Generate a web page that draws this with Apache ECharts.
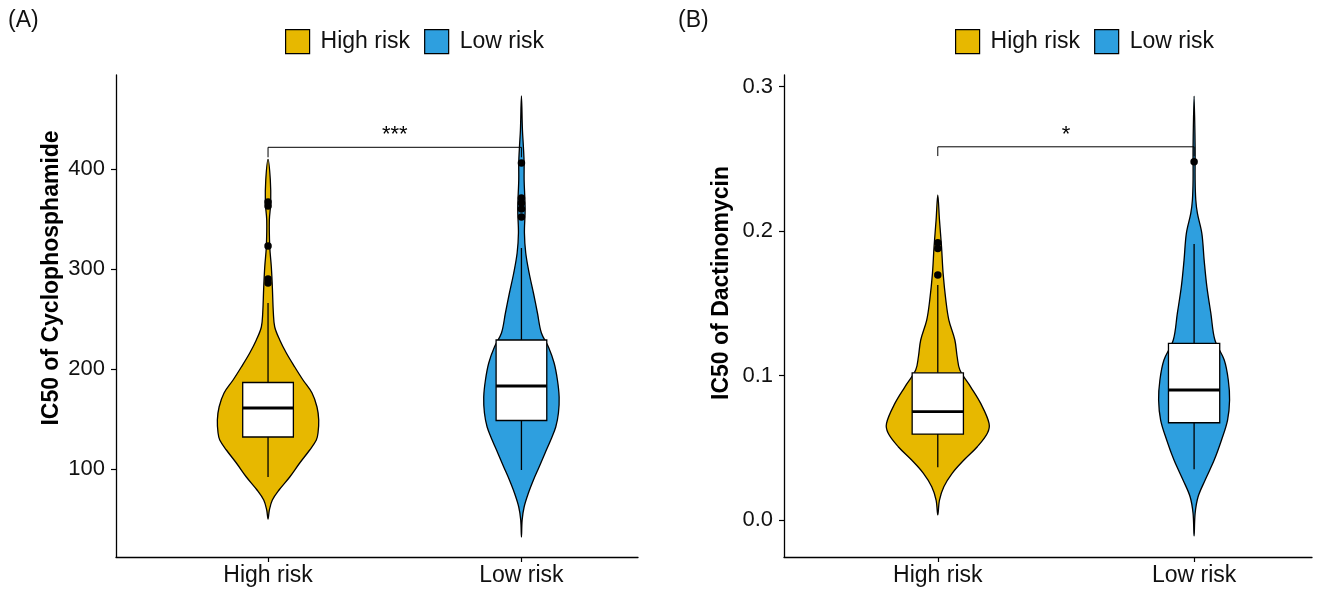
<!DOCTYPE html>
<html>
<head>
<meta charset="utf-8">
<title>IC50 violin plots</title>
<script src="https://cdn.jsdelivr.net/npm/echarts@6/dist/echarts.min.js"></script>
<style>
  html, body { margin: 0; padding: 0; background: #fff; }
  #chart { width: 1320px; height: 592px; }
</style>
</head>
<body>
<div id="chart"></div>
<script>
// groups on the x axis
const groups = ['High risk', 'Low risk'];
const groupColors = ['#E7B800', '#2E9FDF'];

// violin outlines: [IC50 value, relative density]
const cycloHighViolin = [
  [409.7, 0], [389, 0.045], [366, 0.053], [349, 0.026], [322, 0.034], [302, 0.065],
  [282, 0.085], [256, 0.105], [242, 0.132], [229, 0.231], [216, 0.361], [202, 0.527],
  [189, 0.69], [176, 0.868], [162, 0.966], [149, 1.0], [136, 0.986], [129, 0.953],
  [119, 0.822], [106, 0.625], [92, 0.428], [79, 0.217], [69, 0.085], [59, 0.026], [50, 0]
];
const cycloLowViolin = [
  [473, 0], [439, 0.02], [422, 0.039], [406, 0.053], [389, 0.053], [360, 0.073],
  [336, 0.059], [316, 0.085], [296, 0.152], [276, 0.237], [256, 0.316], [236, 0.394],
  [222, 0.533], [206, 0.645], [189, 0.71], [172, 0.744], [156, 0.73], [142, 0.677],
  [129, 0.578], [116, 0.467], [102, 0.349], [89, 0.237], [76, 0.138], [62, 0.053],
  [49, 0.014], [32, 0]
];
const dactHighViolin = [
  [0.225, 0], [0.2076, 0.033], [0.1891, 0.073], [0.1707, 0.104], [0.1522, 0.157],
  [0.1384, 0.216], [0.1246, 0.333], [0.113, 0.378], [0.1038, 0.431], [0.0922, 0.641],
  [0.0807, 0.837], [0.0669, 1.0], [0.06, 0.967], [0.0507, 0.771], [0.0415, 0.51],
  [0.0323, 0.28], [0.023, 0.118], [0.0138, 0.033], [0.0035, 0]
];
const dactLowViolin = [
  [0.2934, 0], [0.2583, 0.02], [0.2353, 0.02], [0.2215, 0.033], [0.2122, 0.065],
  [0.1984, 0.151], [0.1799, 0.196], [0.1615, 0.249], [0.143, 0.327], [0.1246, 0.406],
  [0.1107, 0.588], [0.0969, 0.667], [0.083, 0.692], [0.0692, 0.653], [0.0554, 0.535],
  [0.0415, 0.392], [0.0277, 0.216], [0.0161, 0.078], [0.0046, 0.02], [-0.011, 0]
];

// box stats: [whisker low, Q1, median, Q3, whisker high]
const cycloBox = [[92, 132, 161, 186.5, 266], [99, 148.5, 183, 229, 321]];
const dactBox = [[0.0365, 0.0595, 0.075, 0.1019, 0.1626], [0.0351, 0.0673, 0.09, 0.1223, 0.191]];

// outliers
const cycloHighOut = [367, 363, 323, 290, 286];
const cycloLowOut = [406, 371, 366, 360, 352];
const dactHighOut = [0.1919, 0.188, 0.1696];
const dactLowOut = [0.248];

// significance brackets: [bar, leg end, label]
const cycloSig = [421.7, 411.7, 434.5];
const dactSig = [0.2583, 0.2519, 0.2668];
const sigLabels = ['***', '*'];

const yTicksA = [100, 200, 300, 400];
const yTicksB = [0, 0.1, 0.2, 0.3];

const FONT = "'Liberation Sans', Arial, sans-serif";
const VIOLIN_HALF = 0.2;  // category units at density 1
const BOX_HALF = 0.1;

function violinItem(profile, xPos) {
  return function (params, api) {
    const right = profile.map(p => api.coord([xPos + p[1] * VIOLIN_HALF, p[0]]));
    const left = profile.slice(1, -1).reverse().map(p => api.coord([xPos - p[1] * VIOLIN_HALF, p[0]]));
    return {
      type: 'polygon',
      shape: { points: right.concat(left), smooth: 0.35 },
      style: { fill: api.visual('color'), stroke: '#000', lineWidth: 1.3 }
    };
  };
}

function boxItem(params, api) {
  const x = api.value(0);
  const lo = api.coord([x, api.value(1)]);
  const q1 = api.coord([x, api.value(2)]);
  const med = api.coord([x, api.value(3)]);
  const q3 = api.coord([x, api.value(4)]);
  const hi = api.coord([x, api.value(5)]);
  const l = api.coord([x - BOX_HALF, 0])[0];
  const r = api.coord([x + BOX_HALF, 0])[0];
  const line = { stroke: '#000', lineWidth: 1.3 };
  return {
    type: 'group',
    children: [
      { type: 'line', shape: { x1: lo[0], y1: lo[1], x2: hi[0], y2: hi[1] }, style: line },
      { type: 'rect', shape: { x: l, y: q3[1], width: r - l, height: q1[1] - q3[1] },
        style: { fill: '#fff', stroke: '#000', lineWidth: 1.3 } },
      { type: 'line', shape: { x1: l, y1: med[1], x2: r, y2: med[1] },
        style: { stroke: '#000', lineWidth: 2.8 } }
    ]
  };
}

function sigRender(label) {
  return function (params, api) {
    const a = api.coord([1, api.value(0)]);
    const b = api.coord([2, api.value(0)]);
    const legA = api.coord([1, api.value(1)]);
    const legB = api.coord([2, api.value(1)]);
    const t = api.coord([1.5, api.value(2)]);
    return {
      type: 'group',
      children: [
        { type: 'polyline', shape: { points: [legA, a, b, legB] },
          style: { stroke: '#000', lineWidth: 1, fill: null } },
        { type: 'text', x: t[0], y: t[1],
          style: { text: label, font: '22px ' + FONT, fill: '#000', align: 'center', verticalAlign: 'middle' } }
      ]
    };
  };
}

function pts(xPos, arr) { return arr.map(v => [xPos, v]); }

function xAxis(gridIndex) {
  return {
    type: 'value', gridIndex: gridIndex, min: 0.4, max: 2.46,
    splitLine: { show: false },
    axisLine: { onZero: false, lineStyle: { color: '#000', width: 1.3 } },
    axisTick: { customValues: [1, 2], length: 5, lineStyle: { color: '#000', width: 1.2 } },
    axisLabel: { customValues: [1, 2], formatter: v => groups[Math.round(v) - 1],
      color: '#111', fontSize: 23, fontFamily: FONT, margin: 7 }
  };
}

function yAxis(gridIndex, min, max, ticks, fmt) {
  return {
    type: 'value', gridIndex: gridIndex, min: min, max: max,
    splitLine: { show: false },
    axisLine: { show: true, onZero: false, lineStyle: { color: '#000', width: 1.3 } },
    axisTick: { show: true, customValues: ticks, length: 5, lineStyle: { color: '#000', width: 1.2 } },
    axisLabel: { customValues: ticks, formatter: fmt, color: '#111', fontSize: 22, fontFamily: FONT, margin: 11 }
  };
}

function legend(left) {
  return {
    left: left, top: 29, padding: 0, data: groups, icon: 'rect', itemWidth: 24, itemHeight: 24, itemGap: 14,
    itemStyle: { borderColor: '#000', borderWidth: 1.2 },
    textStyle: { fontSize: 23, fontFamily: FONT, color: '#111', padding: [0, 0, 0, 6] },
    selectedMode: false
  };
}

const chart = echarts.init(document.getElementById('chart'));

const option = {
  animation: false,
  backgroundColor: '#fff',
  grid: [
    { left: 116, top: 75, width: 522, height: 482 },
    { left: 784, top: 75, width: 528, height: 482 }
  ],
  legend: [legend(285), legend(955)],
  xAxis: [xAxis(0), xAxis(1)],
  yAxis: [
    yAxis(0, 12, 494, yTicksA, v => String(v)),
    yAxis(1, -0.0256, 0.308, yTicksB, v => v.toFixed(1))
  ],
  graphic: [
    { type: 'text', left: 8, top: 9, style: { text: '(A)', font: '23px ' + FONT, fill: '#111' } },
    { type: 'text', left: 678, top: 9, style: { text: '(B)', font: '23px ' + FONT, fill: '#111' } },
    { type: 'text', x: 52, y: 278, rotation: Math.PI / 2,
      style: { text: 'IC50 of Cyclophosphamide', font: 'bold 23px ' + FONT, fill: '#000',
        align: 'center', verticalAlign: 'middle' } },
    { type: 'text', x: 722, y: 283, rotation: Math.PI / 2,
      style: { text: 'IC50 of Dactinomycin', font: 'bold 23px ' + FONT, fill: '#000',
        align: 'center', verticalAlign: 'middle' } }
  ],
  series: [
    // violins
    { name: groups[0], type: 'custom', xAxisIndex: 0, yAxisIndex: 0, data: [[1]], z: 1,
      itemStyle: { color: groupColors[0] }, renderItem: violinItem(cycloHighViolin, 1) },
    { name: groups[1], type: 'custom', xAxisIndex: 0, yAxisIndex: 0, data: [[2]], z: 1,
      itemStyle: { color: groupColors[1] }, renderItem: violinItem(cycloLowViolin, 2) },
    { name: groups[0], type: 'custom', xAxisIndex: 1, yAxisIndex: 1, data: [[1]], z: 1,
      itemStyle: { color: groupColors[0] }, renderItem: violinItem(dactHighViolin, 1) },
    { name: groups[1], type: 'custom', xAxisIndex: 1, yAxisIndex: 1, data: [[2]], z: 1,
      itemStyle: { color: groupColors[1] }, renderItem: violinItem(dactLowViolin, 2) },
    // boxes
    { type: 'custom', xAxisIndex: 0, yAxisIndex: 0, z: 2, renderItem: boxItem,
      data: cycloBox.map((b, i) => [i + 1].concat(b)) },
    { type: 'custom', xAxisIndex: 1, yAxisIndex: 1, z: 2, renderItem: boxItem,
      data: dactBox.map((b, i) => [i + 1].concat(b)) },
    // outliers
    { type: 'scatter', xAxisIndex: 0, yAxisIndex: 0, z: 3, symbolSize: 7.5,
      itemStyle: { color: '#000', opacity: 1 }, data: pts(1, cycloHighOut).concat(pts(2, cycloLowOut)) },
    { type: 'scatter', xAxisIndex: 1, yAxisIndex: 1, z: 3, symbolSize: 7.5,
      itemStyle: { color: '#000', opacity: 1 }, data: pts(1, dactHighOut).concat(pts(2, dactLowOut)) },
    // significance brackets
    { type: 'custom', xAxisIndex: 0, yAxisIndex: 0, z: 4, renderItem: sigRender(sigLabels[0]), data: [cycloSig] },
    { type: 'custom', xAxisIndex: 1, yAxisIndex: 1, z: 4, renderItem: sigRender(sigLabels[1]), data: [dactSig] }
  ]
};

chart.setOption(option);
window.addEventListener('resize', function () { chart.resize(); });
</script>
</body>
</html>
